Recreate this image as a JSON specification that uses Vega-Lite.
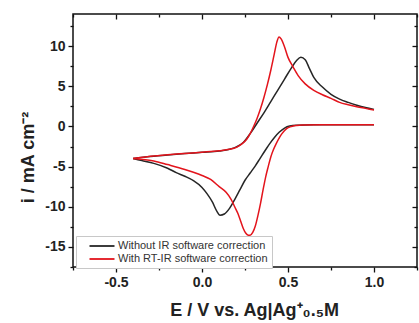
{
  "$schema": "https://vega.github.io/schema/vega-lite/v6.json",
  "autosize": "none",
  "width": 344,
  "height": 253,
  "padding": {"left": 73, "top": 14, "right": 2, "bottom": 56},
  "background": "white",
  "config": {
    "view": {"stroke": "#111", "strokeWidth": 1.5},
    "axis": {"domain": false, "grid": false, "tickColor": "#111", "tickWidth": 1.3, "labelFont": "Liberation Sans", "labelFontWeight": "bold", "labelFontSize": 14, "labelColor": "#222", "titleFont": "Liberation Sans", "titleFontWeight": "bold", "titleFontSize": 18, "titleColor": "#222"}
  },
  "data": {"values": [
    {"s":"Without IR software correction","b":"f","i":1,"E":-0.40,"I":-4.0},
    {"s":"Without IR software correction","b":"f","i":2,"E":-0.30,"I":-3.75},
    {"s":"Without IR software correction","b":"f","i":3,"E":-0.20,"I":-3.55},
    {"s":"Without IR software correction","b":"f","i":4,"E":-0.10,"I":-3.38},
    {"s":"Without IR software correction","b":"f","i":5,"E":0.00,"I":-3.22},
    {"s":"Without IR software correction","b":"f","i":6,"E":0.10,"I":-3.05},
    {"s":"Without IR software correction","b":"f","i":7,"E":0.16,"I":-2.85},
    {"s":"Without IR software correction","b":"f","i":8,"E":0.20,"I":-2.55},
    {"s":"Without IR software correction","b":"f","i":9,"E":0.24,"I":-2.0},
    {"s":"Without IR software correction","b":"f","i":10,"E":0.28,"I":-0.9},
    {"s":"Without IR software correction","b":"f","i":11,"E":0.32,"I":0.4},
    {"s":"Without IR software correction","b":"f","i":12,"E":0.36,"I":1.7},
    {"s":"Without IR software correction","b":"f","i":13,"E":0.40,"I":3.1},
    {"s":"Without IR software correction","b":"f","i":14,"E":0.44,"I":4.5},
    {"s":"Without IR software correction","b":"f","i":15,"E":0.48,"I":5.9},
    {"s":"Without IR software correction","b":"f","i":16,"E":0.52,"I":7.3},
    {"s":"Without IR software correction","b":"f","i":17,"E":0.55,"I":8.2},
    {"s":"Without IR software correction","b":"f","i":18,"E":0.575,"I":8.6},
    {"s":"Without IR software correction","b":"f","i":19,"E":0.60,"I":8.3},
    {"s":"Without IR software correction","b":"f","i":20,"E":0.625,"I":7.2},
    {"s":"Without IR software correction","b":"f","i":21,"E":0.65,"I":6.1},
    {"s":"Without IR software correction","b":"f","i":22,"E":0.70,"I":4.9},
    {"s":"Without IR software correction","b":"f","i":23,"E":0.75,"I":4.0},
    {"s":"Without IR software correction","b":"f","i":24,"E":0.80,"I":3.4},
    {"s":"Without IR software correction","b":"f","i":25,"E":0.85,"I":3.0},
    {"s":"Without IR software correction","b":"f","i":26,"E":0.90,"I":2.65},
    {"s":"Without IR software correction","b":"f","i":27,"E":0.95,"I":2.35},
    {"s":"Without IR software correction","b":"f","i":28,"E":1.00,"I":2.1},
    {"s":"Without IR software correction","b":"r","i":1,"E":1.00,"I":0.2},
    {"s":"Without IR software correction","b":"r","i":2,"E":0.80,"I":0.2},
    {"s":"Without IR software correction","b":"r","i":3,"E":0.65,"I":0.2},
    {"s":"Without IR software correction","b":"r","i":4,"E":0.55,"I":0.15},
    {"s":"Without IR software correction","b":"r","i":5,"E":0.51,"I":0.05},
    {"s":"Without IR software correction","b":"r","i":6,"E":0.48,"I":-0.2},
    {"s":"Without IR software correction","b":"r","i":7,"E":0.45,"I":-0.7},
    {"s":"Without IR software correction","b":"r","i":8,"E":0.42,"I":-1.4},
    {"s":"Without IR software correction","b":"r","i":9,"E":0.395,"I":-2.1},
    {"s":"Without IR software correction","b":"r","i":10,"E":0.37,"I":-2.9},
    {"s":"Without IR software correction","b":"r","i":11,"E":0.337,"I":-4.0},
    {"s":"Without IR software correction","b":"r","i":12,"E":0.31,"I":-4.9},
    {"s":"Without IR software correction","b":"r","i":13,"E":0.28,"I":-5.8},
    {"s":"Without IR software correction","b":"r","i":14,"E":0.25,"I":-6.7},
    {"s":"Without IR software correction","b":"r","i":15,"E":0.22,"I":-7.9},
    {"s":"Without IR software correction","b":"r","i":16,"E":0.19,"I":-9.1},
    {"s":"Without IR software correction","b":"r","i":17,"E":0.16,"I":-10.2},
    {"s":"Without IR software correction","b":"r","i":18,"E":0.13,"I":-10.9},
    {"s":"Without IR software correction","b":"r","i":19,"E":0.105,"I":-11.05},
    {"s":"Without IR software correction","b":"r","i":20,"E":0.085,"I":-10.5},
    {"s":"Without IR software correction","b":"r","i":21,"E":0.06,"I":-9.4},
    {"s":"Without IR software correction","b":"r","i":22,"E":0.03,"I":-8.4},
    {"s":"Without IR software correction","b":"r","i":23,"E":0.00,"I":-7.6},
    {"s":"Without IR software correction","b":"r","i":24,"E":-0.05,"I":-6.75},
    {"s":"Without IR software correction","b":"r","i":25,"E":-0.10,"I":-6.2},
    {"s":"Without IR software correction","b":"r","i":26,"E":-0.15,"I":-5.75},
    {"s":"Without IR software correction","b":"r","i":27,"E":-0.20,"I":-5.2},
    {"s":"Without IR software correction","b":"r","i":28,"E":-0.28,"I":-4.6},
    {"s":"Without IR software correction","b":"r","i":29,"E":-0.35,"I":-4.25},
    {"s":"Without IR software correction","b":"r","i":30,"E":-0.40,"I":-4.0},
    {"s":"With RT-IR software correction","b":"f","i":1,"E":-0.40,"I":-4.0},
    {"s":"With RT-IR software correction","b":"f","i":2,"E":-0.30,"I":-3.72},
    {"s":"With RT-IR software correction","b":"f","i":3,"E":-0.20,"I":-3.52},
    {"s":"With RT-IR software correction","b":"f","i":4,"E":-0.10,"I":-3.36},
    {"s":"With RT-IR software correction","b":"f","i":5,"E":0.00,"I":-3.2},
    {"s":"With RT-IR software correction","b":"f","i":6,"E":0.10,"I":-3.02},
    {"s":"With RT-IR software correction","b":"f","i":7,"E":0.16,"I":-2.85},
    {"s":"With RT-IR software correction","b":"f","i":8,"E":0.20,"I":-2.6},
    {"s":"With RT-IR software correction","b":"f","i":9,"E":0.23,"I":-2.2},
    {"s":"With RT-IR software correction","b":"f","i":10,"E":0.26,"I":-1.6},
    {"s":"With RT-IR software correction","b":"f","i":11,"E":0.28,"I":-0.9},
    {"s":"With RT-IR software correction","b":"f","i":12,"E":0.30,"I":0.0},
    {"s":"With RT-IR software correction","b":"f","i":13,"E":0.32,"I":1.0},
    {"s":"With RT-IR software correction","b":"f","i":14,"E":0.34,"I":2.2},
    {"s":"With RT-IR software correction","b":"f","i":15,"E":0.36,"I":3.6},
    {"s":"With RT-IR software correction","b":"f","i":16,"E":0.38,"I":5.2},
    {"s":"With RT-IR software correction","b":"f","i":17,"E":0.40,"I":7.0},
    {"s":"With RT-IR software correction","b":"f","i":18,"E":0.42,"I":9.0},
    {"s":"With RT-IR software correction","b":"f","i":19,"E":0.435,"I":10.5},
    {"s":"With RT-IR software correction","b":"f","i":20,"E":0.448,"I":11.15},
    {"s":"With RT-IR software correction","b":"f","i":21,"E":0.46,"I":10.9},
    {"s":"With RT-IR software correction","b":"f","i":22,"E":0.48,"I":9.9},
    {"s":"With RT-IR software correction","b":"f","i":23,"E":0.50,"I":8.6},
    {"s":"With RT-IR software correction","b":"f","i":24,"E":0.53,"I":7.4},
    {"s":"With RT-IR software correction","b":"f","i":25,"E":0.56,"I":6.3},
    {"s":"With RT-IR software correction","b":"f","i":26,"E":0.60,"I":5.3},
    {"s":"With RT-IR software correction","b":"f","i":27,"E":0.65,"I":4.5},
    {"s":"With RT-IR software correction","b":"f","i":28,"E":0.70,"I":3.95},
    {"s":"With RT-IR software correction","b":"f","i":29,"E":0.75,"I":3.5},
    {"s":"With RT-IR software correction","b":"f","i":30,"E":0.80,"I":3.0},
    {"s":"With RT-IR software correction","b":"f","i":31,"E":0.85,"I":2.7},
    {"s":"With RT-IR software correction","b":"f","i":32,"E":0.90,"I":2.45},
    {"s":"With RT-IR software correction","b":"f","i":33,"E":0.95,"I":2.25},
    {"s":"With RT-IR software correction","b":"f","i":34,"E":1.00,"I":2.05},
    {"s":"With RT-IR software correction","b":"r","i":1,"E":1.00,"I":0.2},
    {"s":"With RT-IR software correction","b":"r","i":2,"E":0.70,"I":0.2},
    {"s":"With RT-IR software correction","b":"r","i":3,"E":0.58,"I":0.18},
    {"s":"With RT-IR software correction","b":"r","i":4,"E":0.55,"I":0.12},
    {"s":"With RT-IR software correction","b":"r","i":5,"E":0.52,"I":0.0},
    {"s":"With RT-IR software correction","b":"r","i":6,"E":0.49,"I":-0.3},
    {"s":"With RT-IR software correction","b":"r","i":7,"E":0.465,"I":-0.9},
    {"s":"With RT-IR software correction","b":"r","i":8,"E":0.45,"I":-1.4},
    {"s":"With RT-IR software correction","b":"r","i":9,"E":0.43,"I":-2.2},
    {"s":"With RT-IR software correction","b":"r","i":10,"E":0.415,"I":-2.9},
    {"s":"With RT-IR software correction","b":"r","i":11,"E":0.40,"I":-3.8},
    {"s":"With RT-IR software correction","b":"r","i":12,"E":0.385,"I":-5.0},
    {"s":"With RT-IR software correction","b":"r","i":13,"E":0.37,"I":-6.3},
    {"s":"With RT-IR software correction","b":"r","i":14,"E":0.355,"I":-7.9},
    {"s":"With RT-IR software correction","b":"r","i":15,"E":0.34,"I":-9.6},
    {"s":"With RT-IR software correction","b":"r","i":16,"E":0.325,"I":-11.1},
    {"s":"With RT-IR software correction","b":"r","i":17,"E":0.31,"I":-12.4},
    {"s":"With RT-IR software correction","b":"r","i":18,"E":0.295,"I":-13.2},
    {"s":"With RT-IR software correction","b":"r","i":19,"E":0.28,"I":-13.55},
    {"s":"With RT-IR software correction","b":"r","i":20,"E":0.27,"I":-13.55},
    {"s":"With RT-IR software correction","b":"r","i":21,"E":0.255,"I":-13.3},
    {"s":"With RT-IR software correction","b":"r","i":22,"E":0.24,"I":-12.7},
    {"s":"With RT-IR software correction","b":"r","i":23,"E":0.225,"I":-11.8},
    {"s":"With RT-IR software correction","b":"r","i":24,"E":0.21,"I":-10.9},
    {"s":"With RT-IR software correction","b":"r","i":25,"E":0.19,"I":-10.0},
    {"s":"With RT-IR software correction","b":"r","i":26,"E":0.17,"I":-9.1},
    {"s":"With RT-IR software correction","b":"r","i":27,"E":0.14,"I":-8.2},
    {"s":"With RT-IR software correction","b":"r","i":28,"E":0.10,"I":-7.5},
    {"s":"With RT-IR software correction","b":"r","i":29,"E":0.05,"I":-6.6},
    {"s":"With RT-IR software correction","b":"r","i":30,"E":0.00,"I":-6.1},
    {"s":"With RT-IR software correction","b":"r","i":31,"E":-0.05,"I":-5.7},
    {"s":"With RT-IR software correction","b":"r","i":32,"E":-0.10,"I":-5.35},
    {"s":"With RT-IR software correction","b":"r","i":33,"E":-0.20,"I":-4.75},
    {"s":"With RT-IR software correction","b":"r","i":34,"E":-0.28,"I":-4.3},
    {"s":"With RT-IR software correction","b":"r","i":35,"E":-0.35,"I":-4.1},
    {"s":"With RT-IR software correction","b":"r","i":36,"E":-0.40,"I":-4.0}
  ]},
  "layer": [
    {
      "mark": {"type": "line", "strokeWidth": 1.5, "interpolate": "monotone"},
      "encoding": {
        "x": {"field": "E", "type": "quantitative", "scale": {"domain": [-0.75, 1.25], "nice": false, "zero": false},
          "axis": {"orient": "bottom", "values": [-0.75, -0.5, -0.25, 0, 0.25, 0.5, 0.75, 1, 1.25],
            "labelExpr": "datum.value === -0.5 ? '-0.5' : datum.value === 0 ? '0.0' : datum.value === 0.5 ? '0.5' : datum.value === 1 ? '1.0' : ''",
            "tickSize": {"condition": {"test": "round(datum.value * 4) % 2 === 0", "value": 5}, "value": 3},
            "labelPadding": 3, "labelFlush": false,
            "title": "E / V vs. Ag|Ag⁺₀.₅M", "titleX": 181, "titleY": 48, "titleBaseline": "alphabetic", "titleAlign": "center"}},
        "y": {"field": "I", "type": "quantitative", "scale": {"domain": [-17.5, 14], "nice": false, "zero": false},
          "axis": {"orient": "left", "values": [-17.5, -15, -12.5, -10, -7.5, -5, -2.5, 0, 2.5, 5, 7.5, 10, 12.5],
            "labelExpr": "datum.value % 5 === 0 ? (datum.value < 0 ? '-' + (-datum.value) : '' + datum.value) : ''",
            "tickSize": {"condition": {"test": "datum.value % 5 === 0", "value": 5}, "value": 3},
            "labelPadding": 3,
            "title": "i / mA cm⁻²", "titleX": -40, "titleY": 143, "titleBaseline": "alphabetic", "titleAlign": "center", "titleAngle": -90}},
        "color": {"field": "s", "type": "nominal",
          "scale": {"domain": ["Without IR software correction", "With RT-IR software correction"], "range": ["#262626", "#e3141c"]},
          "legend": {"orient": "none", "legendX": 3, "legendY": 222, "title": null, "symbolType": "M-2.5,0H2.5", "symbolSize": 100, "symbolStrokeWidth": 1.8,
            "labelFont": "Liberation Sans", "labelFontSize": 11, "labelColor": "#333", "strokeColor": "#c8c8c8", "fillColor": "white",
            "padding": 4, "rowPadding": 2, "labelOffset": 10, "symbolOffset": 16}},
        "detail": {"field": "b", "type": "nominal"},
        "order": {"field": "i", "type": "quantitative"}
      }
    },
    {
      "mark": {"type": "point", "opacity": 0},
      "encoding": {
        "x": {"field": "E", "type": "quantitative",
          "axis": {"orient": "top", "values": [-0.75, -0.5, -0.25, 0, 0.25, 0.5, 0.75, 1, 1.25], "labels": false, "title": null,
            "tickSize": {"condition": {"test": "round(datum.value * 4) % 2 === 0", "value": -5}, "value": -3}}},
        "y": {"field": "I", "type": "quantitative",
          "axis": {"orient": "right", "values": [-17.5, -15, -12.5, -10, -7.5, -5, -2.5, 0, 2.5, 5, 7.5, 10, 12.5], "labels": false, "title": null,
            "tickSize": {"condition": {"test": "datum.value % 5 === 0", "value": -5}, "value": -3}}}
      }
    }
  ],
  "resolve": {"axis": {"x": "independent", "y": "independent"}}
}
